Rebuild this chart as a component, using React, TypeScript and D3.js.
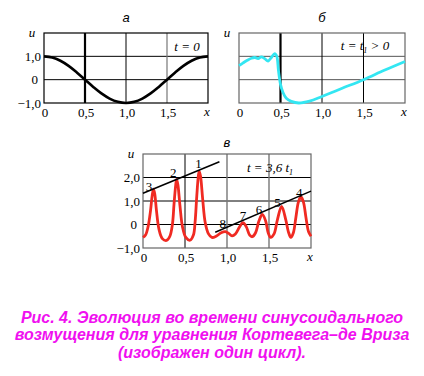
import React from "react";
import * as d3 from "d3";

// ---- data ----
const xTicks = [0, 0.5, 1.0, 1.5];
const xTickLabels = ["0", "0,5", "1,0", "1,5"];

const yTicksA = [1, 0, -1];
const yTickLabelsA = ["1,0", "0", "\u22121,0"];
const yTicksC = [2, 1, 0, -1];
const yTickLabelsC = ["2,0", "1,0", "0", "\u22121,0"];

// panel а: initial sinusoidal profile (t = 0)
const xA = [0, 0.1, 0.2, 0.3, 0.4, 0.5, 0.6, 0.7, 0.8, 0.9, 1.0, 1.1, 1.2, 1.3, 1.4, 1.5, 1.6, 1.7, 1.8, 1.9, 2.0];
const uA = [1, 0.95, 0.81, 0.59, 0.31, 0, -0.31, -0.59, -0.81, -0.95, -1, -0.95, -0.81, -0.59, -0.31, 0, 0.31, 0.59, 0.81, 0.95, 1];

// panel б: steepened profile (t = t1 > 0)
const xB = [0, 0.05, 0.1, 0.15, 0.19, 0.23, 0.27, 0.31, 0.35, 0.39, 0.43, 0.455, 0.475, 0.5, 0.53, 0.57, 0.63, 0.72, 0.85, 1.0, 1.25, 1.5, 1.75, 2.0];
const uB = [0.6, 0.72, 0.83, 0.92, 0.95, 0.9, 0.98, 0.9, 0.8, 0.95, 1.12, 1.0, 0.4, -0.2, -0.55, -0.8, -0.93, -1.0, -0.92, -0.72, -0.36, 0.0, 0.4, 0.78];

// panel в: soliton train (t = 3,6 t1)
const xC = [0, 0.03, 0.06, 0.09, 0.11, 0.125, 0.14, 0.16, 0.19, 0.23, 0.28, 0.32, 0.35, 0.37, 0.39, 0.4, 0.415, 0.44, 0.47, 0.51, 0.56, 0.6, 0.62, 0.64, 0.66, 0.67, 0.685, 0.71, 0.74, 0.78, 0.82, 0.87, 0.93, 0.98, 1.02, 1.06, 1.1, 1.15, 1.19, 1.23, 1.27, 1.3, 1.34, 1.38, 1.42, 1.46, 1.49, 1.52, 1.56, 1.6, 1.65, 1.7, 1.73, 1.76, 1.79, 1.82, 1.85, 1.88, 1.91, 1.94, 1.97, 2.0];
const uC = [-0.55, -0.45, -0.1, 0.6, 1.25, 1.5, 1.3, 0.6, -0.2, -0.6, -0.68, -0.5, 0.0, 0.9, 1.7, 1.92, 1.7, 0.8, -0.1, -0.55, -0.67, -0.45, 0.1, 1.2, 2.1, 2.26, 2.05, 1.1, 0.1, -0.4, -0.55, -0.5, -0.35, -0.3, -0.38, -0.48, -0.4, -0.1, 0.08, -0.1, -0.45, -0.52, -0.35, 0.15, 0.43, 0.15, -0.35, -0.55, -0.4, 0.2, 0.77, 0.2, -0.3, -0.55, -0.35, 0.3, 0.95, 1.18, 0.95, 0.3, -0.3, -0.5];

// envelope lines through soliton peaks
const envUpperX = [0, 0.91];
const envUpperU = [1.33, 2.67];
const envLowerX = [0.86, 2.0];
const envLowerU = [-0.33, 1.42];

// soliton numbers
const solitonLabels = ["3", "2", "1", "8", "7", "6", "5", "4"];
const solitonLabelX = [0.07, 0.36, 0.66, 0.95, 1.19, 1.38, 1.6, 1.86];
const solitonLabelU = [1.6, 2.2, 2.6, 0.05, 0.4, 0.65, 0.95, 1.38];

const captionLines = [
  "Рис. 4. Эволюция во времени синусоидального",
  "возмущения для уравнения Кортевега–де Вриза",
  "(изображен один цикл).",
];

const SERIF = "Liberation Serif, Times New Roman, DejaVu Serif, serif";
const SANS = "Liberation Sans, Arial, sans-serif";

type VLine = { x: number; color: string; width: number };

function Panel(props: {
  x0: number; x1: number; y0: number; y1: number;
  yDomain: [number, number];
  hLines: number[]; hColor: string;
  vLines: VLine[]; border: string;
  yTicks?: number[]; yLabels?: string[];
  title: string; titleY: number;
  children: (sx: d3.ScaleLinear<number, number>, sy: d3.ScaleLinear<number, number>) => React.ReactNode;
}) {
  const sx = d3.scaleLinear().domain([0, 2]).range([props.x0, props.x1]);
  const sy = d3.scaleLinear().domain(props.yDomain).range([props.y1, props.y0]);
  return (
    <g>
      {props.hLines.map((h, i) => (
        <line key={"h" + i} x1={props.x0} x2={props.x1} y1={sy(h)} y2={sy(h)} stroke={props.hColor} strokeWidth={1} />
      ))}
      {props.vLines.map((v, i) => (
        <line key={"v" + i} x1={sx(v.x)} x2={sx(v.x)} y1={props.y0} y2={props.y1} stroke={v.color} strokeWidth={v.width} />
      ))}
      <rect x={props.x0} y={props.y0} width={props.x1 - props.x0} height={props.y1 - props.y0} fill="none" stroke={props.border} strokeWidth={1.2} />
      {props.yTicks && props.yLabels && props.yTicks.map((t, i) => (
        <text key={"yt" + i} x={props.x0 - (t === 0 ? 6 : 3)} y={sy(t)} dy="0.35em" textAnchor="end" style={{ fontFamily: SERIF, fontSize: 13 }}>{props.yLabels![i]}</text>
      ))}
      {xTicks.map((t, i) => (
        <text key={"xt" + i} x={sx(t) + 1} y={props.y1 + 9} dy="0.35em" textAnchor="middle" style={{ fontFamily: SERIF, fontSize: 13 }}>{xTickLabels[i]}</text>
      ))}
      <text x={props.x1 - 1} y={props.y1 + 8} dy="0.35em" textAnchor="middle" style={{ fontFamily: SERIF, fontStyle: "italic", fontSize: 13 }}>x</text>
      <text x={props.x0 - 12} y={props.y0 - 1} dy="0.35em" textAnchor="middle" style={{ fontFamily: SERIF, fontStyle: "italic", fontSize: 13 }}>u</text>
      <text x={(props.x0 + props.x1) / 2} y={props.titleY} dy="0.35em" textAnchor="middle" style={{ fontFamily: SANS, fontStyle: "italic", fontSize: 13 }}>{props.title}</text>
      {props.children(sx, sy)}
    </g>
  );
}

export default function App() {
  const mkLine = (sx: any, sy: any, xs: number[], us: number[], curve: any) =>
    d3.line<number>().x((_, i) => sx(xs[i])).y((u) => sy(u)).curve(curve)(us) || "";

  const it = { fontFamily: SERIF, fontStyle: "italic", fontSize: 13 } as const;

  return (
    <svg width={424} height={376} style={{ position: "absolute", left: 0, top: 0, background: "#fff" }}>
      <Panel x0={44} x1={208} y0={33} y1={103} yDomain={[-1, 2]} hLines={[1, 0]} hColor="#000"
        vLines={[{ x: 0.5, color: "#000", width: 2.2 }, { x: 1.0, color: "#000", width: 1 }, { x: 1.5, color: "#777", width: 1.2 }]}
        border="#000" yTicks={yTicksA} yLabels={yTickLabelsA} title="а" titleY={17}>
        {(sx, sy) => (
          <g>
            <path d={mkLine(sx, sy, xA, uA, d3.curveCatmullRom)} fill="none" stroke="#000" strokeWidth={2.6} />
            <text x={187} y={46} dy="0.35em" textAnchor="middle" style={it}>t = 0</text>
          </g>
        )}
      </Panel>
      <Panel x0={239} x1={405} y0={33} y1={103} yDomain={[-1, 2]} hLines={[1, 0]} hColor="#555"
        vLines={[{ x: 0.5, color: "#000", width: 2.2 }, { x: 1.0, color: "#000", width: 1 }, { x: 1.5, color: "#000", width: 1 }]}
        border="#666" title="б" titleY={17}>
        {(sx, sy) => (
          <g>
            <path d={mkLine(sx, sy, xB, uB, d3.curveCatmullRom)} fill="none" stroke="#33e6f2" strokeWidth={2.8} />
            <text x={365} y={45} dy="0.35em" textAnchor="middle" style={it}>
              t = t<tspan style={{ fontSize: 8 }} dy="3">1</tspan><tspan dy="-3"> &gt; 0</tspan>
            </text>
          </g>
        )}
      </Panel>
      <Panel x0={143} x1={311} y0={154} y1={248} yDomain={[-1, 3]} hLines={[2, 1, 0]} hColor="#000"
        vLines={[{ x: 0.5, color: "#000", width: 1 }, { x: 1.0, color: "#777", width: 1.4 }, { x: 1.5, color: "#777", width: 1.4 }]}
        border="#666" yTicks={yTicksC} yLabels={yTickLabelsC} title="в" titleY={142}>
        {(sx, sy) => (
          <g>
            <path d={mkLine(sx, sy, xC, uC, d3.curveCatmullRom)} fill="none" stroke="#f02a22" strokeWidth={2.8} />
            <path d={mkLine(sx, sy, envUpperX, envUpperU, d3.curveLinear)} fill="none" stroke="#000" strokeWidth={1.5} />
            <path d={mkLine(sx, sy, envLowerX, envLowerU, d3.curveLinear)} fill="none" stroke="#000" strokeWidth={1.5} />
            {solitonLabels.map((s, i) => (
              <text key={s} x={sx(solitonLabelX[i])} y={sy(solitonLabelU[i])} dy="0.35em" textAnchor="middle" style={{ fontFamily: SERIF, fontSize: 13 }}>{s}</text>
            ))}
            <text x={270} y={167} dy="0.35em" textAnchor="middle" style={it}>
              t = 3,6 t<tspan style={{ fontSize: 8 }} dy="3">1</tspan>
            </text>
          </g>
        )}
      </Panel>
      {captionLines.map((l, i) => (
        <text key={i} x={212} y={317 + i * 17.5} dy="0.35em" textAnchor="middle" style={{ fontFamily: SANS, fontStyle: "italic", fontWeight: "bold", fontSize: 16 }} fill="#f010f0">{l}</text>
      ))}
    </svg>
  );
}
